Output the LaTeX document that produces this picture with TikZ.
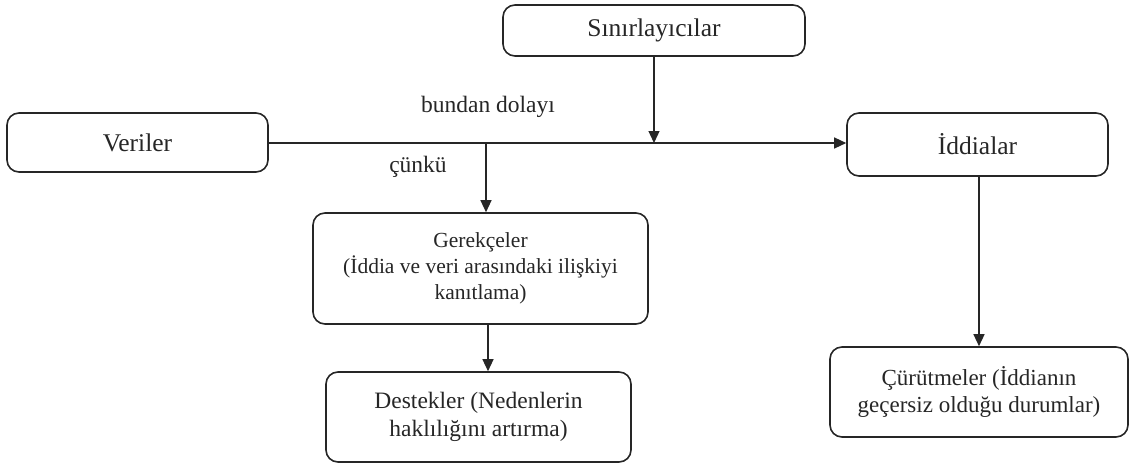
\documentclass[tikz,border=0pt]{standalone}
\usepackage{fontspec}
\setmainfont{Liberation Serif}
\usetikzlibrary{arrows.meta}
\begin{document}
\begin{tikzpicture}[x=1pt,y=-1pt,
  box/.style={draw=black!85, line width=1.6pt, rounded corners=12pt, inner sep=0pt, align=center, text=black!85},
  bigtxt/.style={font=\fontsize{25.5}{29}\selectfont},
  midtxt/.style={font=\fontsize{23}{27}\selectfont},
  lbl/.style={font=\fontsize{23.5}{27}\selectfont, text=black!85, inner sep=0pt},
  arr/.style={draw=black!85, line width=1.3pt, -{Triangle[length=12pt,width=11pt]}}]
\useasboundingbox (0,0) rectangle (1130,464);
\node[box,bigtxt,minimum width=302pt,minimum height=51pt] (sin) at (654,30.5) {Sınırlayıcılar};
\node[box,bigtxt,minimum width=261pt,minimum height=59pt] (ver) at (137.5,142.5) {Veriler};
\node[box,bigtxt,minimum width=261pt,minimum height=63pt] (idd) at (977.5,144.5) {İddialar};
\node[box,font=\fontsize{21.5}{26}\selectfont,minimum width=335pt,minimum height=111pt] (ger) at (480.5,268.5) {Gerekçeler\\(İddia ve veri arasındaki ilişkiyi\\kanıtlama)};
\node[box,font=\fontsize{23.5}{28}\selectfont,minimum width=305pt,minimum height=90pt] (des) at (478.5,417) {Destekler (Nedenlerin\\haklılığını artırma)};
\node[box,midtxt,minimum width=298pt,minimum height=90pt] (cur) at (979,392) {Çürütmeler (İddianın\\geçersiz olduğu durumlar)};
\node[lbl] (bd) at (488,107) {bundan dolayı};
\node[lbl] (cn) at (418,167) {çünkü};
\coordinate (j1) at (654,143);
\coordinate (j2) at (486,143);
\coordinate (c3) at (488,0);
\coordinate (c4) at (979,0);
\draw[arr] (ver.east |- j1) -- (idd.west |- j1);
\draw[arr] (sin.south) -- (j1);
\draw[arr] (j2) -- (j2 |- ger.north);
\draw[arr] (ger.south -| c3) -- (des.north -| c3);
\draw[arr] (idd.south -| c4) -- (cur.north -| c4);
\end{tikzpicture}
\end{document}
